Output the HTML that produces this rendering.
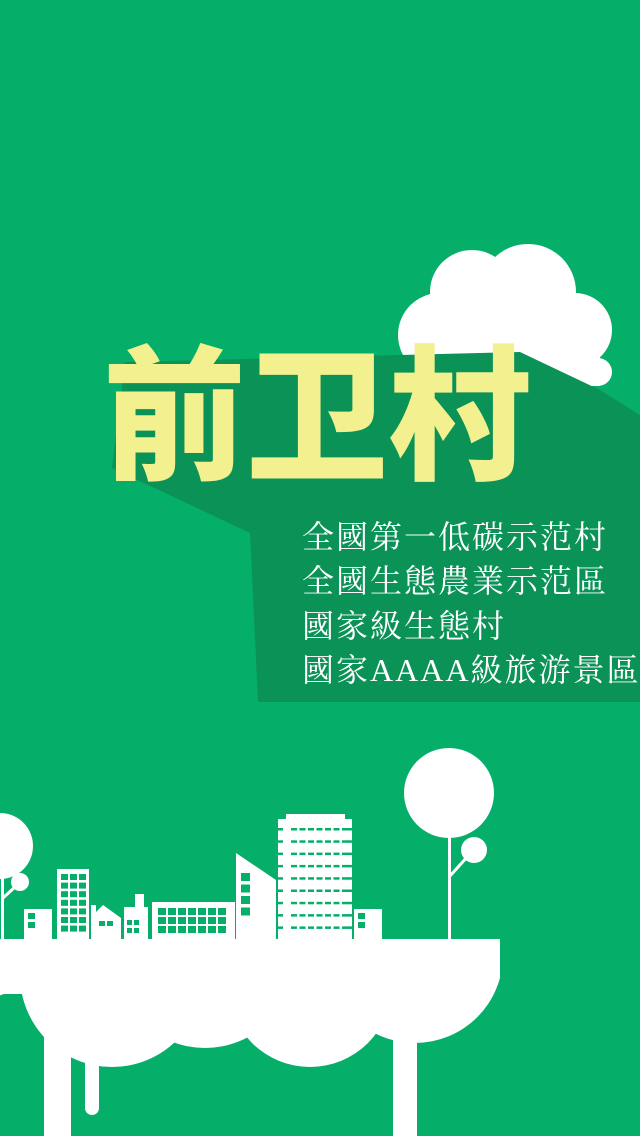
<!DOCTYPE html>
<html><head><meta charset="utf-8"><style>
html,body{margin:0;padding:0;width:640px;height:1136px;overflow:hidden;background:#05AF6A}
svg{display:block}
.sub{font-family:"Liberation Serif","Noto Serif CJK SC",serif;fill:#fff;font-size:32px;letter-spacing:2px}
</style></head><body>
<svg width="640" height="1136" viewBox="0 0 640 1136">
<rect width="640" height="1136" fill="#05AF6A"/>
<g fill="#fff">
<circle cx="440" cy="335" r="42"/><circle cx="472" cy="292" r="42"/><circle cx="528" cy="292" r="48"/><circle cx="575" cy="330" r="37"/><circle cx="598" cy="372" r="14"/>
<rect x="420" y="320" width="180" height="66"/>
</g>
<polygon fill="#0A9257" points="112,468 125,362 520,352 600,390 640,415 640,702 258,702 250,533"/>
<text x="103" y="468" font-family="'Noto Sans CJK SC',sans-serif" font-weight="900" font-size="146" fill="#F2F08F" textLength="428" lengthAdjust="spacingAndGlyphs">前卫村</text>
<g>
<text class="sub" x="302" y="548">全國第一低碳示范村</text>
<text class="sub" x="302" y="592">全國生態農業示范區</text>
<text class="sub" x="302" y="637">國家級生態村</text>
<text class="sub" x="302" y="681">國家AAAA級旅游景區</text>
</g>
<defs><clipPath id="below"><rect x="0" y="939" width="500" height="200"/></clipPath></defs>
<g fill="#fff">
<g clip-path="url(#below)">
<rect x="0" y="939" width="420" height="55"/>
<ellipse cx="-10" cy="960" rx="35" ry="37"/>
<circle cx="112" cy="975" r="92"/><circle cx="205" cy="958" r="90"/><circle cx="310" cy="985" r="82"/><circle cx="415" cy="955" r="88"/>
</g>
<rect x="44" y="990" width="27" height="146"/>
<rect x="85" y="990" width="14" height="118"/><circle cx="92" cy="1108" r="7"/>
<rect x="393" y="990" width="24" height="146"/>
</g>
<g fill="#fff" stroke="#fff">
<circle cx="449" cy="793" r="45" stroke="none"/><rect x="448" y="830" width="3" height="110" stroke="none"/>
<circle cx="474" cy="850" r="13" stroke="none"/><line x1="450" y1="876" x2="468" y2="856" stroke-width="3"/>
<circle cx="0" cy="846" r="33" stroke="none"/><rect x="1" y="870" width="3" height="70" stroke="none"/>
<circle cx="20" cy="882" r="9" stroke="none"/><line x1="3" y1="898" x2="16" y2="886" stroke-width="3"/>
</g>
<g>
<g fill="#fff">
<rect x="24" y="909" width="28" height="31"/>
<rect x="57" y="869" width="32" height="71"/>
<polygon points="91,940 91,905 96,905 96,912 103,905 121,918 121,940"/>
<polygon points="124,940 124,907 135,907 135,894 144,894 144,907 148,907 148,940"/>
<rect x="152" y="902" width="83" height="38"/>
<polygon points="236,940 236,853 276,880 276,940"/>
<polygon points="278,940 278,819 286,819 286,814 345,814 345,819 352,819 352,940"/>
<rect x="354" y="909" width="28" height="31"/>
</g>
<g fill="#05AF6A" id="wins"></g>
</g>
</svg>
<script>
var g=document.getElementById('wins');
function w(x,y,ww,hh){var r=document.createElementNS('http://www.w3.org/2000/svg','rect');
r.setAttribute('x',x);r.setAttribute('y',y);r.setAttribute('width',ww);r.setAttribute('height',hh);


g.appendChild(r);}
w(28,913,7,6);w(28,922,7,6);w(358,913,7,6);w(358,922,7,6);
for(var c=0;c<3;c++)for(var r=0;r<7;r++)w(61+c*9,874+r*8.6,7,6);
w(99,921,6,5);w(107,921,6,5);
w(127,920,5,5);w(134,920,5,5);w(127,928,5,5);w(134,928,5,5);
for(var c=0;c<7;c++)for(var r=0;r<3;r++)w(158+c*10,908+r*9,8,7);
for(var r=0;r<4;r++)w(241,873+r*11.5,9,8);
for(var r=0;r<9;r++){var y=828+r*12.3;w(278,y,5,2.5);w(347,y,5,2.5);for(var c=0;c<7;c++)w(291+c*8.5,y,6,2.5);}
</script>
</body></html>
